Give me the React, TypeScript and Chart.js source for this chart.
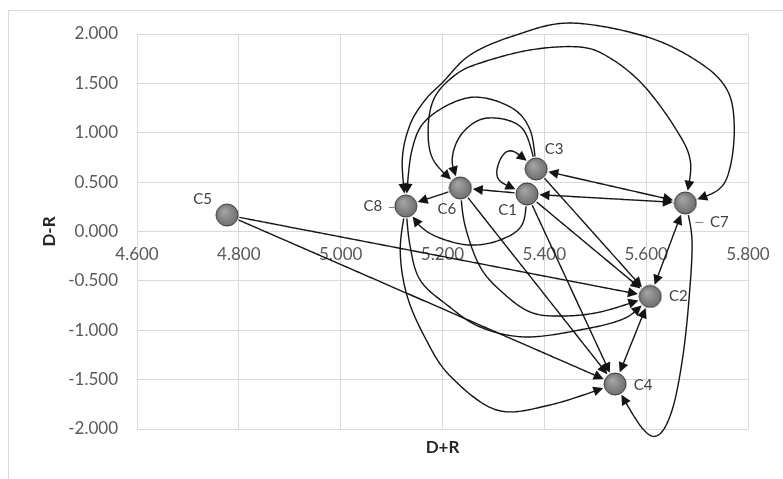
import React, { useEffect, useRef } from 'react';
import { Chart, registerables } from 'chart.js';

Chart.register(...registerables);

// ---------- data ----------
const NODE_LABELS = ['C1', 'C2', 'C3', 'C4', 'C5', 'C6', 'C7', 'C8'];
const D_PLUS_R = [5.366, 5.608, 5.384, 5.539, 4.777, 5.235, 5.677, 5.128];
const D_MINUS_R = [0.38, -0.658, 0.633, -1.544, 0.167, 0.441, 0.289, 0.258];
const X_TICKS = [4.6, 4.8, 5.0, 5.2, 5.4, 5.6, 5.8];
const Y_TICKS = [-2, -1.5, -1, -0.5, 0, 0.5, 1, 1.5, 2];
const X_TITLE = 'D+R';
const Y_TITLE = 'D-R';

// straight influence links: [from, to, two-way]
const STRAIGHT_LINKS: [string, string, boolean][] = [
  ['C5', 'C2', false],
  ['C5', 'C4', false],
  ['C6', 'C8', false],
  ['C1', 'C6', false],
  ['C1', 'C7', true],
  ['C3', 'C7', true],
  ['C7', 'C2', true],
  ['C2', 'C4', true],
  ['C1', 'C2', false],
  ['C1', 'C4', false],
  ['C3', 'C2', false],
  ['C6', 'C4', false],
];

// curved influence links, routed through waypoints in (D+R, D-R) units
const CURVED_LINKS: { from: string; to: string; both: boolean; via: [number, number][] }[] = [
  { from: 'C1', to: 'C3', both: true, via: [[5.311, 0.522], [5.313, 0.724], [5.337, 0.815]] },
  { from: 'C3', to: 'C6', both: false, via: [[5.356, 1.048], [5.288, 1.149], [5.239, 0.997], [5.219, 0.724]] },
  { from: 'C3', to: 'C8', both: false, via: [[5.372, 1.028], [5.333, 1.261], [5.254, 1.357], [5.172, 1.149], [5.14, 0.825]] },
  {
    from: 'C8', to: 'C7', both: true,
    via: [[5.121, 0.724], [5.136, 1.078], [5.166, 1.332], [5.201, 1.514], [5.254, 1.787], [5.339, 1.98], [5.451, 2.111],
      [5.602, 1.97], [5.706, 1.706], [5.759, 1.433], [5.773, 1.078], [5.765, 0.653], [5.741, 0.42]],
  },
  {
    from: 'C6', to: 'C7', both: true,
    via: [[5.182, 0.724], [5.172, 1.058], [5.185, 1.362], [5.225, 1.585], [5.274, 1.706], [5.372, 1.838], [5.47, 1.868],
      [5.529, 1.757], [5.594, 1.484], [5.657, 1.048], [5.687, 0.704]],
  },
  { from: 'C1', to: 'C8', both: false, via: [[5.356, 0.066], [5.313, -0.086], [5.254, -0.137], [5.195, -0.066], [5.156, 0.056]] },
  { from: 'C8', to: 'C4', both: false, via: [[5.117, -0.187], [5.13, -0.643], [5.166, -1.078], [5.215, -1.463], [5.307, -1.808], [5.411, -1.757]] },
  { from: 'C8', to: 'C2', both: false, via: [[5.136, -0.137], [5.156, -0.491], [5.209, -0.744], [5.274, -0.967], [5.362, -1.068], [5.47, -0.997], [5.559, -0.876]] },
  { from: 'C6', to: 'C2', both: false, via: [[5.244, 0.066], [5.274, -0.359], [5.319, -0.623], [5.372, -0.815], [5.431, -0.856], [5.51, -0.815]] },
  { from: 'C7', to: 'C4', both: false, via: [[5.69, -0.086], [5.684, -0.694], [5.671, -1.301], [5.651, -1.808], [5.624, -2.061], [5.592, -1.99]] },
];

// ---------- styles ----------
const FONT = 'Lato, "Open Sans", sans-serif';
const NODE_R = 12.5;
const HEAD_LEN = 10;
const HEAD_W = 5;
const LINE_COLOR = '#141414';
const GRID_COLOR = '#d9d9d9';
const LABEL_OFFSETS: Record<string, [number, number]> = {
  C1: [-19.5, 16.5],
  C2: [28, 0],
  C3: [18, -19.5],
  C4: [28, 1.5],
  C5: [-24.5, -16],
  C6: [-13.5, 21.5],
  C7: [34, 19],
  C8: [-33, 0.5],
};
const LEADERS: Record<string, [number, number, number, number]> = {
  C7: [10, 19, 18, 19],
  C8: [-17, 0.5, -11, 0.5],
};

type P = { x: number; y: number };

function spline(pts: P[]): P[] {
  const out: P[] = [];
  const n = pts.length;
  for (let i = 0; i < n - 1; i++) {
    const p0 = pts[Math.max(i - 1, 0)];
    const p1 = pts[i];
    const p2 = pts[i + 1];
    const p3 = pts[Math.min(i + 2, n - 1)];
    const c1 = { x: p1.x + (p2.x - p0.x) / 6, y: p1.y + (p2.y - p0.y) / 6 };
    const c2 = { x: p2.x - (p3.x - p1.x) / 6, y: p2.y - (p3.y - p1.y) / 6 };
    const steps = Math.max(8, Math.ceil(Math.hypot(p2.x - p1.x, p2.y - p1.y) / 2));
    for (let s = i === 0 ? 0 : 1; s <= steps; s++) {
      const t = s / steps;
      const u = 1 - t;
      out.push({
        x: u * u * u * p1.x + 3 * u * u * t * c1.x + 3 * u * t * t * c2.x + t * t * t * p2.x,
        y: u * u * u * p1.y + 3 * u * u * t * c1.y + 3 * u * t * t * c2.y + t * t * t * p2.y,
      });
    }
  }
  return out;
}

function trimFront(poly: P[], c: P, r: number): P[] {
  let i = 0;
  while (i < poly.length && Math.hypot(poly[i].x - c.x, poly[i].y - c.y) < r) i++;
  if (i === 0 || i >= poly.length) return poly.slice(i);
  const a = poly[i - 1];
  const b = poly[i];
  const da = Math.hypot(a.x - c.x, a.y - c.y);
  const db = Math.hypot(b.x - c.x, b.y - c.y);
  const t = db - da === 0 ? 0 : (r - da) / (db - da);
  return [{ x: a.x + (b.x - a.x) * t, y: a.y + (b.y - a.y) * t }, ...poly.slice(i)];
}

function drawHead(ctx: CanvasRenderingContext2D, poly: P[]) {
  const tip = poly[poly.length - 1];
  let j = poly.length - 2;
  while (j > 0 && Math.hypot(poly[j].x - tip.x, poly[j].y - tip.y) < HEAD_LEN) j--;
  const back = poly[Math.max(j, 0)];
  const d = Math.hypot(tip.x - back.x, tip.y - back.y) || 1;
  const ux = (tip.x - back.x) / d;
  const uy = (tip.y - back.y) / d;
  const bx = tip.x - ux * HEAD_LEN;
  const by = tip.y - uy * HEAD_LEN;
  ctx.beginPath();
  ctx.moveTo(tip.x, tip.y);
  ctx.lineTo(bx - uy * HEAD_W, by + ux * HEAD_W);
  ctx.lineTo(bx + uy * HEAD_W, by - ux * HEAD_W);
  ctx.closePath();
  ctx.fill();
}

function makeMarker(): HTMLCanvasElement {
  const c = document.createElement('canvas');
  c.width = 24;
  c.height = 24;
  const g = c.getContext('2d')!;
  const grad = g.createRadialGradient(9, 8, 1, 12, 12, 12);
  grad.addColorStop(0, '#a3a3a3');
  grad.addColorStop(1, '#6c6c6c');
  g.beginPath();
  g.arc(12, 12, 11, 0, Math.PI * 2);
  g.fillStyle = grad;
  g.fill();
  g.lineWidth = 1;
  g.strokeStyle = '#3a3a3a';
  g.stroke();
  return c;
}

const framePlugin = {
  id: 'frame',
  beforeDraw(chart: any) {
    const ctx = chart.ctx as CanvasRenderingContext2D;
    ctx.save();
    ctx.fillStyle = '#ffffff';
    ctx.fillRect(0, 0, chart.width, chart.height);
    ctx.strokeStyle = GRID_COLOR;
    ctx.lineWidth = 1;
    ctx.beginPath();
    ctx.moveTo(8.5, chart.height);
    ctx.lineTo(8.5, 10.5);
    ctx.lineTo(chart.width, 10.5);
    ctx.stroke();
    ctx.restore();
  },
};

const linkPlugin = {
  id: 'links',
  beforeDatasetsDraw(chart: any) {
    const xs = chart.scales.x;
    const ys = chart.scales.y;
    const ctx = chart.ctx as CanvasRenderingContext2D;
    const nodePx = (name: string): P => {
      const i = NODE_LABELS.indexOf(name);
      return { x: xs.getPixelForValue(D_PLUS_R[i]), y: ys.getPixelForValue(D_MINUS_R[i]) };
    };
    const links = [
      ...STRAIGHT_LINKS.map(([from, to, both]) => ({ from, to, both, via: [] as [number, number][] })),
      ...CURVED_LINKS,
    ];
    ctx.save();
    ctx.strokeStyle = LINE_COLOR;
    ctx.fillStyle = LINE_COLOR;
    ctx.lineWidth = 1.4;
    ctx.lineJoin = 'round';
    for (const link of links) {
      const a = nodePx(link.from);
      const b = nodePx(link.to);
      const pts: P[] = [a, ...link.via.map(([vx, vy]) => ({ x: xs.getPixelForValue(vx), y: ys.getPixelForValue(vy) })), b];
      let poly = spline(pts);
      poly = trimFront(poly, a, NODE_R);
      poly = trimFront(poly.slice().reverse(), b, NODE_R).reverse();
      if (poly.length < 2) continue;
      drawHead(ctx, poly);
      if (link.both) drawHead(ctx, poly.slice().reverse());
      let line = trimFront(poly.slice().reverse(), poly[poly.length - 1], HEAD_LEN - 2).reverse();
      if (link.both) line = trimFront(line, poly[0], HEAD_LEN - 2);
      ctx.beginPath();
      line.forEach((p, k) => (k === 0 ? ctx.moveTo(p.x, p.y) : ctx.lineTo(p.x, p.y)));
      ctx.stroke();
    }
    ctx.restore();
  },
};

const labelPlugin = {
  id: 'nodeLabels',
  afterDatasetsDraw(chart: any) {
    const xs = chart.scales.x;
    const ys = chart.scales.y;
    const ctx = chart.ctx as CanvasRenderingContext2D;
    ctx.save();
    ctx.font = `15px ${FONT}`;
    ctx.fillStyle = '#404040';
    ctx.strokeStyle = '#7f7f7f';
    ctx.lineWidth = 1;
    ctx.textAlign = 'center';
    ctx.textBaseline = 'middle';
    NODE_LABELS.forEach((name, i) => {
      const px = xs.getPixelForValue(D_PLUS_R[i]);
      const py = ys.getPixelForValue(D_MINUS_R[i]);
      const [ox, oy] = LABEL_OFFSETS[name];
      ctx.fillText(name, px + ox, py + oy);
      const l = LEADERS[name];
      if (l) {
        ctx.beginPath();
        ctx.moveTo(px + l[0], Math.round(py + l[1]) + 0.5);
        ctx.lineTo(px + l[2], Math.round(py + l[3]) + 0.5);
        ctx.stroke();
      }
    });
    // axis titles
    const area = chart.chartArea;
    ctx.font = `bold 17px ${FONT}`;
    ctx.fillStyle = '#262626';
    ctx.fillText(X_TITLE, (area.left + area.right) / 2, area.bottom + 19);
    ctx.translate(50, (area.top + area.bottom) / 2);
    ctx.rotate(-Math.PI / 2);
    ctx.fillText(Y_TITLE, 0, 0);
    ctx.restore();
  },
};

export default function App() {
  const ref = useRef<HTMLCanvasElement>(null);
  useEffect(() => {
    if (!ref.current) return;
    const marker = makeMarker();
    const tickFont = { size: 17, family: FONT };
    const chart = new Chart(ref.current, {
      type: 'scatter',
      data: {
        datasets: [
          {
            data: D_PLUS_R.map((x, i) => ({ x, y: D_MINUS_R[i] })),
            pointStyle: marker as any,
            pointRadius: 11,
            pointHoverRadius: 11,
            showLine: false,
            clip: false as any,
          },
        ],
      },
      options: {
        responsive: false,
        animation: false,
        devicePixelRatio: 1,
        events: [],
        layout: { padding: { left: 0, top: 34, right: 35, bottom: 50 } },
        plugins: { legend: { display: false }, tooltip: { enabled: false } },
        scales: {
          x: {
            type: 'linear',
            position: { y: 0 } as any,
            min: X_TICKS[0],
            max: X_TICKS[X_TICKS.length - 1],
            afterBuildTicks: (s: any) => {
              s.ticks = X_TICKS.map((v) => ({ value: v }));
            },
            afterFit: (s: any) => {
              s.height = 0;
            },
            grid: { color: GRID_COLOR, drawTicks: false, lineWidth: 1 },
            border: { display: false },
            ticks: {
              padding: 13,
              color: '#595959',
              font: tickFont,
              maxRotation: 0,
              autoSkip: false,
              callback: (v: any) => Number(v).toFixed(3),
            },
          },
          y: {
            type: 'linear',
            position: 'left',
            min: Y_TICKS[0],
            max: Y_TICKS[Y_TICKS.length - 1],
            afterBuildTicks: (s: any) => {
              s.ticks = Y_TICKS.map((v) => ({ value: v }));
            },
            afterFit: (s: any) => {
              s.width = 137;
            },
            grid: { color: GRID_COLOR, drawTicks: false, lineWidth: 1 },
            border: { display: false },
            ticks: {
              padding: 19,
              color: '#595959',
              font: tickFont,
              autoSkip: false,
              callback: (v: any) => Number(v).toFixed(3),
            },
          },
        },
      },
      plugins: [framePlugin, linkPlugin, labelPlugin],
    });
    return () => chart.destroy();
  }, []);
  return (
    <div style={{ position: 'fixed', left: 0, top: 0, width: 783, height: 479, background: '#fff' }}>
      <canvas ref={ref} width={783} height={479} style={{ display: 'block', width: 783, height: 479 }} />
    </div>
  );
}
